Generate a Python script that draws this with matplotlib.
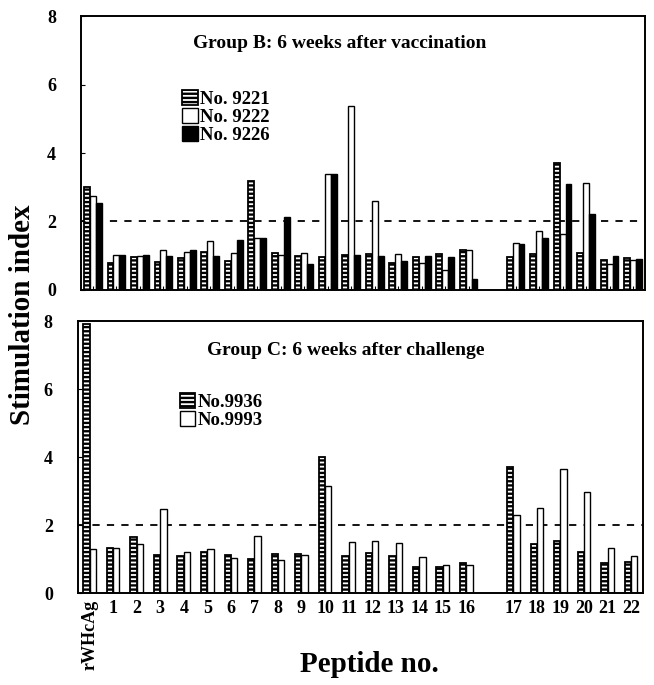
import numpy as np
import matplotlib
matplotlib.use('Agg')
import matplotlib.pyplot as plt

plt.rcParams['font.family'] = 'Liberation Serif'
plt.rcParams['font.weight'] = 'bold'
plt.rcParams['hatch.linewidth'] = 1.7

# x categories: rWHcAg, peptides 1-16, (gap), peptides 17-22
labels = ['rWHcAg'] + [str(i) for i in range(1, 17)] + [str(i) for i in range(17, 23)]
pos = np.array([0] + list(range(1, 17)) + list(range(18, 24)))

# Group B: 6 weeks after vaccination
b_9221 = [3.02, 0.79, 0.96, 0.81, 0.93, 1.11, 0.85, 3.18, 1.07, 0.98, 0.96, 1.02,
          1.05, 0.79, 0.96, 1.05, 1.17, 0.96, 1.05, 3.72, 1.09, 0.88, 0.93]
b_9222 = [2.75, 1.03, 1.00, 1.17, 1.11, 1.42, 1.07, 1.51, 1.02, 1.07, 3.40, 5.39,
          2.61, 1.05, 0.79, 0.59, 1.15, 1.37, 1.71, 1.63, 3.13, 0.75, 0.86]
b_9226 = [2.54, 1.03, 1.02, 0.99, 1.15, 0.98, 1.47, 1.51, 2.13, 0.76, 3.40, 1.02,
          0.99, 0.83, 0.99, 0.95, 0.31, 1.34, 1.51, 3.10, 2.23, 1.00, 0.91]

# Group C: 6 weeks after challenge
c_9936 = [7.92, 1.32, 1.65, 1.13, 1.08, 1.20, 1.11, 1.00, 1.15, 1.15, 4.02, 1.09,
          1.18, 1.09, 0.76, 0.78, 0.88, 3.70, 1.45, 1.55, 1.22, 0.89, 0.91]
c_9993 = [1.29, 1.32, 1.44, 2.47, 1.21, 1.30, 1.03, 1.69, 0.98, 1.11, 3.16, 1.52,
          1.54, 1.47, 1.06, 0.84, 0.84, 2.30, 2.51, 3.64, 2.97, 1.32, 1.09]

cutoff = 2

fig = plt.figure(figsize=(6.54, 6.85), dpi=100)
ax1 = fig.add_axes([0.124, 0.577, 0.862, 0.399])
ax2 = fig.add_axes([0.119, 0.134, 0.864, 0.397])

hatch_kw = dict(facecolor='white', edgecolor='black', hatch='----', linewidth=1.3)
white_kw = dict(facecolor='white', edgecolor='black', linewidth=1.0)
black_kw = dict(facecolor='black', edgecolor='black', linewidth=1.0)

w = 0.25
ax1.bar(pos - w, b_9221, w, label='No. 9221', **hatch_kw)
ax1.bar(pos, b_9222, w, label='No. 9222', **white_kw)
ax1.bar(pos + w, b_9226, w, label='No. 9226', **black_kw)

w2 = 0.27
ax2.bar(pos - w2 / 2, c_9936, w2, label='No.9936', **hatch_kw)
ax2.bar(pos + w2 / 2, c_9993, w2, label='No.9993', **white_kw)

for ax in (ax1, ax2):
    ax.axhline(cutoff, color='black', linestyle=(0, (4, 4)), linewidth=1.3, zorder=0)
    ax.set_xlim(-0.5, 23.5)
    ax.set_ylim(0, 8)
    ax.set_yticks([0, 2, 4, 6, 8])
    ax.set_xticks(pos)
    ax.tick_params(axis='y', direction='in', length=3, pad=18, labelsize=13)
    ax.tick_params(axis='x', direction='in', length=3, labelsize=13)
    for s in ax.spines.values():
        s.set_linewidth(1.4)

ax1.set_xticklabels([])
ax2.set_xticklabels(labels, fontsize=13, fontweight='bold')
lab0 = ax2.get_xticklabels()[0]
lab0.set_rotation(90)
lab0.set_va('top')
ax2.tick_params(axis='x', pad=5)

ax1.text(0.459, 0.9, 'Group B: 6 weeks after vaccination', transform=ax1.transAxes,
         ha='center', va='center', fontsize=14, fontweight='bold')
ax2.text(0.474, 0.893, 'Group C: 6 weeks after challenge', transform=ax2.transAxes,
         ha='center', va='center', fontsize=14, fontweight='bold')

leg_kw = dict(loc='upper left', frameon=False, handlelength=0.85,
              handleheight=0.85, handletextpad=0.1, labelspacing=0.0,
              borderpad=0, borderaxespad=0, prop={'weight': 'bold', 'size': 13.5})
ax1.legend(bbox_to_anchor=(0.179, 0.73), **leg_kw)
ax2.legend(bbox_to_anchor=(0.18, 0.735), **leg_kw)

fig.text(0.565, 0.03, 'Peptide no.', ha='center', va='center', fontsize=21, fontweight='bold')
fig.text(0.035, 0.54, 'Stimulation index', rotation=90, ha='center', va='center',
         fontsize=21, fontweight='bold')

fig.savefig('out.png', dpi=100)
